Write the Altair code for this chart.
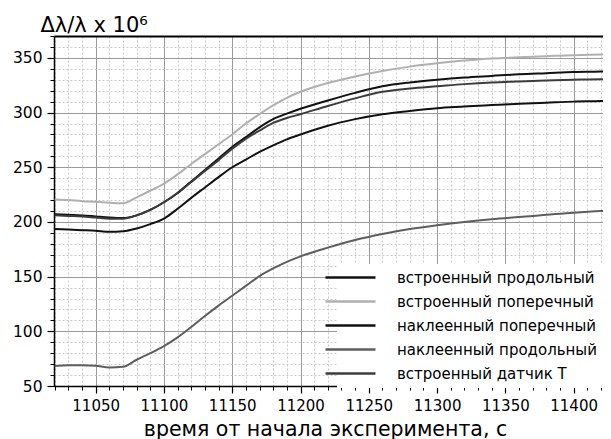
import altair as alt
import pandas as pd

t = [11020, 11030, 11040, 11050, 11060, 11070, 11080, 11090, 11100, 11110,
     11120, 11130, 11140, 11150, 11160, 11170, 11180, 11190, 11200, 11220,
     11240, 11260, 11280, 11300, 11320, 11340, 11360, 11380, 11400, 11420, 11430]

vstr_prod = [207, 206.5, 206, 205, 204, 203.5, 206, 211, 218, 226.5,
             237, 247.5, 258, 268.5, 277.5, 286.5, 294, 299, 303.5, 311,
             318, 324, 327.5, 330, 332, 333.5, 335, 336, 337, 337.5, 338]
vstr_pop = [220.5, 220, 219, 218.5, 217.5, 217, 222.5, 228.5, 235, 243.5,
            253, 262, 271, 280, 290, 298.5, 306.5, 313.5, 319, 327,
            333, 338, 342, 345, 347.5, 349.5, 350.5, 351.5, 352.5, 353, 353]
nakl_pop = [193.5, 193, 192.5, 192, 191, 191.5, 194, 198, 203, 212,
            222, 231.5, 241, 250, 257, 264, 270, 275.5, 280, 288,
            294, 298.5, 301.5, 304, 305.5, 307, 308, 309, 310, 310.5, 311]
nakl_prod = [68.3, 69, 69, 68.5, 67, 67.5, 74, 80, 86.5, 94.5,
             104, 114, 123.5, 132.5, 141.5, 150.5, 157.5, 163.5, 168.5, 176.5,
             183.5, 189, 193.5, 197, 200, 202.5, 204.5, 206.5, 208.5, 210, 210.5]
vstr_T = [206, 205.5, 205, 204, 203, 203, 206, 211, 218, 226.5,
          236.5, 246.5, 256.5, 267, 276, 283.5, 290.5, 295, 298.5, 306,
          313, 319, 322, 324, 326, 327.5, 328.5, 329.3, 330, 330.5, 330.5]

labels = ["встроенный продольный", "встроенный поперечный", "наклеенный поперечный",
          "наклеенный продольный", "встроенный датчик Т"]
colors = ["#111111", "#b0b0b0", "#111111", "#5e5e5e", "#3c3c3c"]
series = [vstr_prod, vstr_pop, nakl_pop, nakl_prod, vstr_T]

x_major = [11050, 11100, 11150, 11200, 11250, 11300, 11350, 11400]
x_minor = list(range(11020, 11430, 10))
y_major = [50, 100, 150, 200, 250, 300, 350]
y_minor = list(range(50, 371, 10))

rows = []
for name, vals in zip(labels, series):
    for tt, v in zip(t, vals):
        rows.append({"t": tt, "v": v, "s": name})
df = pd.DataFrame(rows)

FONT = "DejaVu Sans"
xs = alt.Scale(domain=[11019.5, 11421.5], nice=False, zero=False)
ys = alt.Scale(domain=[50, 370], nice=False, zero=False)

base = alt.Chart(df)

minor = base.mark_line(opacity=0).encode(
    x=alt.X("t:Q", scale=xs, axis=alt.Axis(orient="bottom", values=x_minor, grid=True, gridColor="#c8c8c8",
                                           gridDash=[2, 2], gridWidth=1, tickSize=4,
                                           tickColor="black", labels=False, domain=False, title=None)),
    y=alt.Y("v:Q", scale=ys, axis=alt.Axis(orient="left", values=y_minor, grid=True, gridColor="#c8c8c8",
                                           gridDash=[2, 2], gridWidth=1, tickSize=4,
                                           tickColor="black", labels=False, domain=False, title=None)),
)

major = base.mark_line(opacity=0).encode(
    x=alt.X("t:Q", scale=xs, axis=alt.Axis(orient="bottom", values=x_major, format="d",
                                           grid=True, gridColor="#9a9a9a",
                                           gridWidth=1, tickSize=7, tickColor="black", tickWidth=1.2,
                                           domainColor="black", domainWidth=1.5,
                                           labelFont=FONT, labelFontSize=15, labelColor="black",
                                           labelPadding=5, labelFlush=False,
                                           title="время от начала эксперимента, с",
                                           titleFont=FONT, titleFontSize=20.5, titleFontWeight="normal",
                                           titleColor="black", titleBaseline="alphabetic",
                                           titleY=49, titleX=271, titleAlign="center")),
    y=alt.Y("v:Q", scale=ys, axis=alt.Axis(orient="left", values=y_major, format="d",
                                           grid=True, gridColor="#9a9a9a",
                                           gridWidth=1, tickSize=7, tickColor="black", tickWidth=1.2,
                                           domainColor="black", domainWidth=1.5,
                                           labelFont=FONT, labelFontSize=15.5, labelColor="black",
                                           labelPadding=5, labelFlush=False,
                                           title="Δλ/λ x 10⁶",
                                           titleFont=FONT, titleFontSize=21, titleFontWeight="normal",
                                           titleColor="black", titleAngle=0, titleAlign="left",
                                           titleBaseline="alphabetic", titleX=-14, titleY=-5)),
)

lines = base.mark_line(strokeWidth=2, clip=True, interpolate="monotone").encode(
    x=alt.X("t:Q", scale=xs, axis=alt.Axis(orient="top", labels=False, ticks=False, grid=False,
                                           domainColor="black", domainWidth=2, title=None)),
    y=alt.Y("v:Q", scale=ys, axis=None),
    color=alt.Color("s:N", scale=alt.Scale(domain=labels, range=colors),
                    legend=alt.Legend(orient="none", legendX=283, legendY=228, title=None,
                                      symbolType="M-5,0H5", symbolSize=100, symbolStrokeWidth=2.5,
                                      labelOffset=39, rowPadding=8, padding=6, fillColor="white",
                                      labelFont=FONT, labelFontSize=15, labelColor="black",
                                      labelLimit=400)),
    detail="s:N",
)

chart = alt.layer(minor, major, lines).resolve_axis(x="independent", y="independent").properties(
    width=549, height=350,
    padding={"left": 46, "top": 28, "right": 0, "bottom": 55},
    autosize="none",
).configure_view(stroke=None)

chart.save("out.html", embed_options={"renderer": "svg", "actions": False})
